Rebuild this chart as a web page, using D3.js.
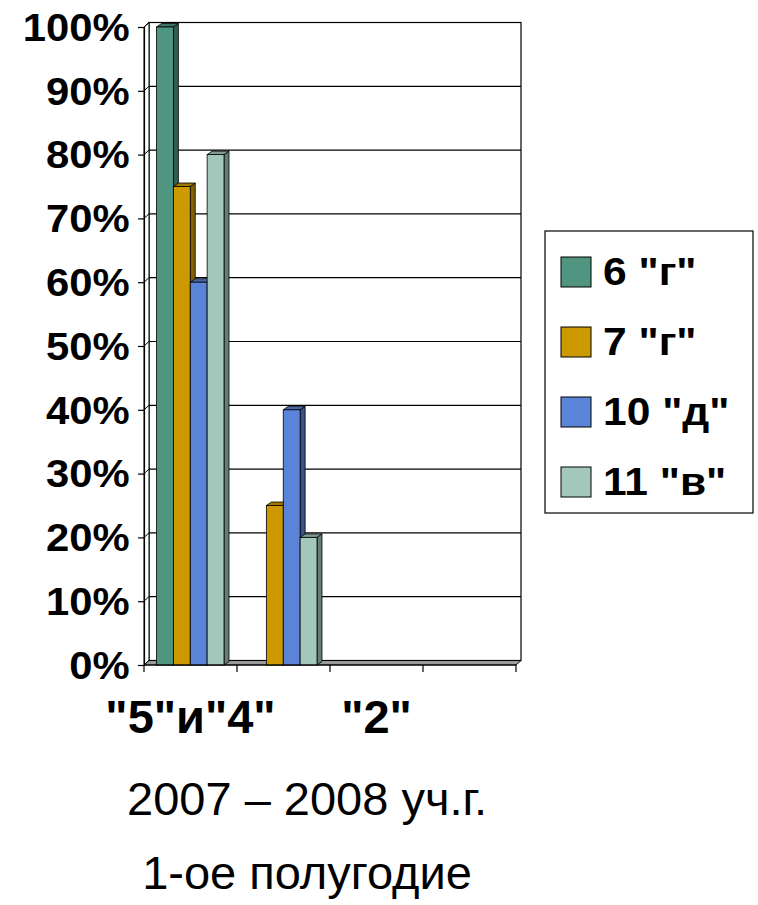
<!DOCTYPE html>
<html>
<head>
<meta charset="utf-8">
<script src="https://cdn.jsdelivr.net/npm/d3@7"></script>
<style>
  body { margin: 0; background: #fff; }
  svg { display: block; font-family: "Liberation Sans", Arial, sans-serif; }
</style>
</head>
<body>
<div id="chart"></div>
<script>
// categories (only every other label fits, as in the original)
const categories = ['"5"и"4"', '"3"', '"2"', '"1"'];
const series = ['6 "г"', '7 "г"', '10 "д"', '11 "в"'];
const val6g = [100, 0, 0, 0];
const val7g = [75, 25, 0, 0];
const val10d = [60, 40, 0, 0];
const val11v = [80, 20, 0, 0];
const yTicks = [0, 10, 20, 30, 40, 50, 60, 70, 80, 90, 100];
const colors = ["#4f9580", "#cc9900", "#5b84d8", "#a3c8bb"];
const titleLines = ["2007 – 2008 уч.г.", "1-ое полугодие"];

const seriesValues = [val6g, val7g, val10d, val11v];

const width = 758, height = 905;
const plotLeft = 144, plotRight = 516, plotTop = 27, plotBottom = 665;
const wallDx = 5, wallDy = -4.5;   // depth of the back wall
const barDx = 5, barDy = -3.5;     // depth of each column

const svg = d3.select("#chart").append("svg")
    .attr("width", width)
    .attr("height", height);

const y = d3.scaleLinear().domain([0, 100]).range([plotBottom, plotTop]);
const x0 = d3.scaleBand().domain(categories).range([plotLeft, plotRight]);
const x1 = d3.scaleBand().domain(series).range([12.5, 80]);

// back wall
svg.append("rect")
    .attr("x", plotLeft + wallDx).attr("y", plotTop + wallDy)
    .attr("width", plotRight - plotLeft).attr("height", plotBottom - plotTop)
    .attr("fill", "#fff").attr("stroke", "#000").attr("stroke-width", 1.2);

svg.append("g").selectAll("line")
    .data(yTicks.slice(1))
    .enter().append("line")
    .attr("x1", plotLeft + wallDx).attr("x2", plotRight + wallDx)
    .attr("y1", d => y(d) + wallDy).attr("y2", d => y(d) + wallDy)
    .attr("stroke", "#000").attr("stroke-width", 1.2);

// left side wall
svg.append("path")
    .attr("d", `M${plotLeft},${plotTop}L${plotLeft + wallDx},${plotTop + wallDy}L${plotLeft + wallDx},${plotBottom + wallDy}L${plotLeft},${plotBottom}Z`)
    .attr("fill", "#fff").attr("stroke", "#000").attr("stroke-width", 1);

svg.append("g").selectAll("line")
    .data(yTicks.slice(1))
    .enter().append("line")
    .attr("x1", plotLeft).attr("x2", plotLeft + wallDx)
    .attr("y1", d => y(d)).attr("y2", d => y(d) + wallDy)
    .attr("stroke", "#000").attr("stroke-width", 1);

// floor
svg.append("path")
    .attr("d", `M${plotLeft},${plotBottom}L${plotRight},${plotBottom}L${plotRight + wallDx},${plotBottom + wallDy}L${plotLeft + wallDx},${plotBottom + wallDy}Z`)
    .attr("fill", "#9a9a9a").attr("stroke", "#000").attr("stroke-width", 1);

// columns
const bars = [];
series.forEach((s, si) => {
    categories.forEach((c, ci) => {
        bars.push({ series: s, si: si, cat: c, value: seriesValues[si][ci] });
    });
});

const barG = svg.append("g");
const barGroups = barG.selectAll("g")
    .data(bars.filter(d => d.value > 0).sort((a, b) => (x0(a.cat) + x1(a.series)) - (x0(b.cat) + x1(b.series))))
    .enter().append("g");

barGroups.each(function (d) {
    const g = d3.select(this);
    const bx = x0(d.cat) + x1(d.series);
    const bw = x1.bandwidth();
    const by = y(d.value);
    const col = d3.color(colors[d.si]);
    // side
    g.append("path")
        .attr("d", `M${bx + bw},${by}L${bx + bw + barDx},${by + barDy}L${bx + bw + barDx},${plotBottom + barDy}L${bx + bw},${plotBottom}Z`)
        .attr("fill", col.darker(1.3)).attr("stroke", "#000").attr("stroke-width", 0.8);
    // top
    g.append("path")
        .attr("d", `M${bx},${by}L${bx + barDx},${by + barDy}L${bx + bw + barDx},${by + barDy}L${bx + bw},${by}Z`)
        .attr("fill", col.darker(0.7)).attr("stroke", "#000").attr("stroke-width", 0.8);
    // front
    g.append("rect")
        .attr("x", bx).attr("y", by)
        .attr("width", bw).attr("height", plotBottom - by)
        .attr("fill", col).attr("stroke", "#000").attr("stroke-width", 0.8);
});

// y axis
const yAxis = svg.append("g")
    .attr("transform", `translate(${plotLeft},0)`)
    .call(d3.axisLeft(y).tickValues(yTicks).tickSize(6).tickPadding(7).tickFormat(d => d + "%"));
yAxis.select(".domain").attr("stroke-width", 1.2);
yAxis.selectAll("line").attr("stroke-width", 1.2);
yAxis.selectAll("text")
    .attr("font-size", 38).attr("font-weight", "bold").attr("fill", "#000")
    .attr("font-family", "Liberation Sans, Arial, sans-serif")
    .attr("dy", "0.35em")
    .attr("transform", "scale(1.1,1)");

// x axis (ticks at category boundaries)
svg.append("line")
    .attr("x1", plotLeft).attr("x2", plotRight)
    .attr("y1", plotBottom).attr("y2", plotBottom)
    .attr("stroke", "#000").attr("stroke-width", 1.2);

const boundaries = categories.map(c => x0(c)).concat([x0.range()[1]]);
svg.append("g").selectAll("line")
    .data(boundaries)
    .enter().append("line")
    .attr("x1", d => d).attr("x2", d => d)
    .attr("y1", plotBottom).attr("y2", plotBottom + 7)
    .attr("stroke", "#000").attr("stroke-width", 1.2);

svg.append("g").selectAll("text")
    .data(categories.filter((c, i) => i % 2 === 0))
    .enter().append("text")
    .attr("x", d => x0(d) + x0.bandwidth() / 2)
    .attr("y", 733)
    .attr("text-anchor", "middle")
    .attr("font-size", 47).attr("font-weight", "bold")
    .text(d => d);

// legend
const legend = svg.append("g");
legend.append("rect")
    .attr("x", 545).attr("y", 231)
    .attr("width", 208).attr("height", 282)
    .attr("fill", "#fff").attr("stroke", "#000").attr("stroke-width", 1.2);

const items = legend.selectAll("g.item")
    .data(series)
    .enter().append("g")
    .attr("class", "item")
    .attr("transform", (d, i) => `translate(0,${i * 70})`);

items.append("rect")
    .attr("x", 561).attr("y", 257)
    .attr("width", 30).attr("height", 30)
    .attr("fill", (d, i) => colors[i])
    .attr("stroke", "#000").attr("stroke-width", 1);

items.append("text")
    .attr("transform", "translate(603,285) scale(1.12,1)")
    .attr("font-size", 38).attr("font-weight", "bold")
    .text(d => d);

// title lines under the chart
svg.append("g").selectAll("text")
    .data(titleLines)
    .enter().append("text")
    .attr("x", 307)
    .attr("y", (d, i) => 815 + i * 74)
    .attr("text-anchor", "middle")
    .attr("font-size", 47)
    .text(d => d);
</script>
</body>
</html>
